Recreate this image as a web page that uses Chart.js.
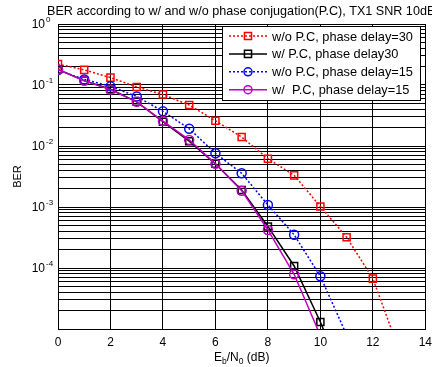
<!DOCTYPE html>
<html>
<head>
<meta charset="utf-8">
<script src="https://cdn.jsdelivr.net/npm/chart.js@4/dist/chart.umd.min.js"></script>
<style>
html,body{margin:0;padding:0;background:#fff;}
#wrap{width:432px;height:367px;}
</style>
</head>
<body>
<div id="wrap"><canvas id="berChart"></canvas></div>
<script>
const ebn0 = [0,1,2,3,4,5,6,7,8,9,10,11,12,13];
const woPc30 = [0.22,0.177,0.132,0.093,0.0697,0.047,0.026,0.014,0.0062,0.0033,0.00102,0.00032,0.000067,0.0000045];
const wPc30  = [0.18,0.118,0.085,0.053,0.025,0.012,0.0051,0.0019,0.00048,0.000108,0.000013,0.0000012];
const woPc15 = [0.176,0.123,0.095,0.065,0.037,0.0192,0.0076,0.00357,0.00108,0.00035,0.000073,0.000008];
const wPc15  = [0.18,0.117,0.084,0.053,0.0256,0.0126,0.0051,0.00185,0.00042,0.000079,0.0000078];
const seriesNames = ["w/o P.C, phase delay=30","w/ P.C, phase delay30","w/o P.C, phase delay=15","w/  P.C, phase delay=15"];
const xTicks = [0,2,4,6,8,10,12,14];
const yDecades = [1,0.1,0.01,0.001,0.0001];
const yExps = ["0","-1","-2","-3","-4"];
const titleText = "BER according to w/ and w/o phase conjugation(P.C), TX1 SNR 10dB";

const FONT = '"Liberation Sans", Arial, sans-serif';
Chart.defaults.font.family = FONT;
Chart.defaults.font.size = 12;
Chart.defaults.color = "#000";

const pts = arr => arr.map((v, i) => ({ x: ebn0[i], y: v }));

// order: magenta drawn last (on top), like the original plot order
const datasets = [
  { label: seriesNames[0], data: pts(woPc30), borderColor: "#ff0000", borderDash: [2,2], pointStyle: "rect", pointRadius: 5, order: 3 },
  { label: seriesNames[1], data: pts(wPc30),  borderColor: "#000000", borderDash: [],    pointStyle: "rect", pointRadius: 5, order: 2 },
  { label: seriesNames[2], data: pts(woPc15), borderColor: "#0000ff", borderDash: [2,2], pointStyle: "circle", pointRadius: 4.5, order: 1 },
  { label: seriesNames[3], data: pts(wPc15),  borderColor: "#bf00bf", borderDash: [],    pointStyle: "circle", pointRadius: 4.5, order: 0 }
].map(d => Object.assign(d, {
  borderWidth: 1.5, pointBorderWidth: 1.5, pointBorderColor: d.borderColor,
  pointBackgroundColor: "rgba(0,0,0,0)", fill: false, tension: 0
}));

function drawMarker(ctx, style, x, y, r) {
  ctx.beginPath();
  if (style === "rect") { const s = r * Math.SQRT1_2; ctx.rect(x - s, y - s, 2 * s, 2 * s); }
  else ctx.arc(x, y, r, 0, Math.PI * 2);
  ctx.stroke();
}

const overlay = {
  id: "overlay",
  afterDraw(chart) {
    const ctx = chart.ctx, ys = chart.scales.y, a = chart.chartArea;
    ctx.save();
    ctx.fillStyle = "#000";
    // title (runs off the right edge like the original)
    ctx.font = "12.6px " + FONT;
    ctx.textBaseline = "alphabetic";
    ctx.textAlign = "left";
    ctx.fillText(titleText, 47, 15);
    // y tick labels with exponent
    yDecades.forEach((v, i) => {
      const y = ys.getPixelForValue(v);
      ctx.font = "12px " + FONT;
      ctx.textAlign = "right";
      ctx.fillText("10", 45, y + 4);
      ctx.font = "8px " + FONT;
      ctx.textAlign = "left";
      ctx.fillText(yExps[i], 46, y - 2);
    });
    // y title
    ctx.save();
    ctx.translate(21, (a.top + a.bottom) / 2);
    ctx.rotate(-Math.PI / 2);
    ctx.font = "11px " + FONT;
    ctx.textAlign = "center";
    ctx.fillText("BER", 0, 0);
    ctx.restore();
    // x title E_b/N_0 (dB)
    const parts = [["E", 0], ["b", 1], ["/N", 0], ["0", 1], [" (dB)", 0]];
    const fontOf = p => (p[1] ? "8.5px " : "12px ") + FONT;
    const w = parts.reduce((s, p) => { ctx.font = fontOf(p); return s + ctx.measureText(p[0]).width; }, 0);
    let cx = (a.left + a.right) / 2 - w / 2;
    ctx.textAlign = "left";
    parts.forEach(p => {
      ctx.font = fontOf(p);
      ctx.fillText(p[0], cx, p[1] ? 364 : 361);
      cx += ctx.measureText(p[0]).width;
    });
    // legend box
    ctx.fillStyle = "#fff";
    ctx.fillRect(222.5, 26.5, 198, 74);
    ctx.strokeStyle = "#000";
    ctx.lineWidth = 1;
    ctx.strokeRect(222.5, 26.5, 198, 74);
    chart.data.datasets.forEach((d, i) => {
      const y = 36 + i * 17.9;
      ctx.strokeStyle = d.borderColor;
      ctx.lineWidth = 1.5;
      ctx.setLineDash(d.borderDash);
      ctx.beginPath(); ctx.moveTo(229, y); ctx.lineTo(267, y); ctx.stroke();
      ctx.setLineDash([]);
      drawMarker(ctx, d.pointStyle, 248, y, d.pointStyle === "rect" ? 5 : 4);
      ctx.fillStyle = "#000";
      ctx.font = "12.8px " + FONT;
      ctx.textBaseline = "middle";
      ctx.fillText(d.label, 272, y + 1);
    });
    ctx.restore();
  }
};

new Chart(document.getElementById("berChart"), {
  type: "line",
  data: { datasets },
  options: {
    responsive: true, maintainAspectRatio: false, animation: false,
    layout: { padding: { left: 0, right: 6, top: 24, bottom: 0 } },
    plugins: { legend: { display: false }, title: { display: false }, tooltip: { enabled: false } },
    scales: {
      x: {
        type: "linear", min: 0, max: 14,
        afterBuildTicks: s => { s.ticks = xTicks.map(v => ({ value: v })); },
        afterFit: s => { s.height = 38; },
        ticks: { padding: 0, color: "#000", font: { size: 12 } },
        grid: { color: "#000", lineWidth: 1, drawTicks: true, tickLength: 6, tickColor: "rgba(0,0,0,0)" },
        border: { color: "#000", width: 1 }
      },
      y: {
        type: "logarithmic", min: 0.00001, max: 1,
        afterBuildTicks: s => {
          const t = [];
          for (let e = -5; e < 0; e++) for (let m = 1; m < 10; m++) t.push({ value: m * Math.pow(10, e) });
          t.push({ value: 1 });
          s.ticks = t;
        },
        afterFit: s => { s.width = 58; },
        ticks: { display: false },
        grid: { color: "#000", lineWidth: 1, drawTicks: false },
        border: { color: "#000", width: 1 }
      }
    }
  },
  plugins: [overlay]
});
</script>
</body>
</html>
